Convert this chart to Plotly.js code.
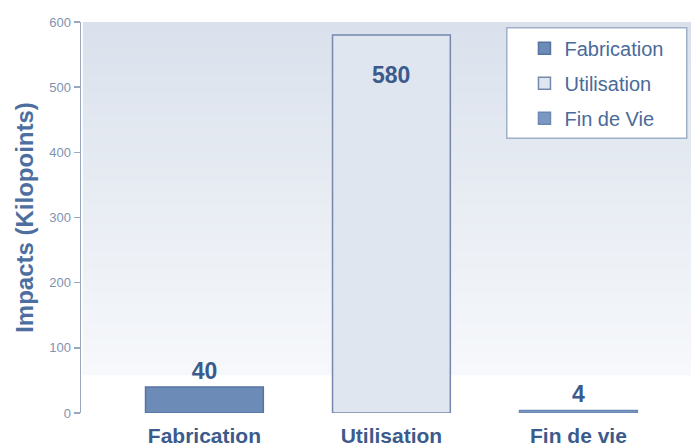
<!DOCTYPE html>
<html>
<head>
<meta charset="utf-8">
<script src="https://cdn.plot.ly/plotly-3.0.1.min.js"></script>
<style>html,body{margin:0;padding:0;background:#fff;}#chart{width:691px;height:448px;}</style>
</head>
<body>
<div id="chart"></div>
<script>
// Data
const categories = ['Fabrication', 'Utilisation', 'Fin de vie'];
const seriesNames = ['Fabrication', 'Utilisation', 'Fin de Vie'];
const values = [40, 580, 4];
const yTickVals = [0, 100, 200, 300, 400, 500, 600];

const fills = ['#6d8bb7', '#dfe6f0', '#7d98c0'];
const lines = ['#5674a2', '#7489ab', '#6a88b4'];
const labelColor = '#3b5b8c';

const traces = categories.map((c, i) => ({
  type: 'bar',
  name: seriesNames[i],
  legendgroup: 'g' + i,
  x: [c],
  y: [values[i]],
  width: 0.63,
  marker: {color: fills[i], line: {color: lines[i], width: 1.5}},
  text: i === 1 ? [''] : [String(values[i])],
  textposition: 'outside',
  constraintext: 'none',
  cliponaxis: false,
  textfont: {family: 'Liberation Sans, Arial, sans-serif', size: 23, color: labelColor, weight: 'bold'},
  hoverinfo: 'x+y'
}));

// gradient background strips (slightly overlapping to avoid seams)
const shapes = [];
const nStrips = 60;
const gBottom = 58, gTop = 600;
const gradTopCol = [218, 225, 236], gradBotCol = [246, 248, 251];
const stripH = (gTop - gBottom) / nStrips;
for (let k = 0; k < nStrips; k++) {
  const t = k / (nStrips - 1);
  const col = gradTopCol.map((v, j) => Math.round(gradBotCol[j] + (v - gradBotCol[j]) * t));
  shapes.push({
    type: 'rect', layer: 'below', xref: 'paper', yref: 'y',
    x0: 0.003, x1: 1,
    y0: gBottom + stripH * k,
    y1: Math.min(gTop, gBottom + stripH * (k + 1) + 2),
    fillcolor: 'rgb(' + col.join(',') + ')', line: {width: 0}
  });
}
// legend box
shapes.push({
  type: 'rect', layer: 'above', xref: 'paper', yref: 'paper',
  x0: 0.698, x1: 0.993, y0: 0.703, y1: 0.985,
  fillcolor: '#ffffff', line: {color: '#9fb0c8', width: 1.5}
});

const annotations = [{
  x: categories[1], y: values[1], xref: 'x', yref: 'y',
  text: String(values[1]), showarrow: false, yanchor: 'middle', yshift: -40,
  font: {family: 'Liberation Sans, Arial, sans-serif', size: 23, color: labelColor, weight: 'bold'}
}];

const layout = {
  width: 691, height: 448,
  margin: {l: 81, r: 0, t: 22, b: 35},
  paper_bgcolor: '#ffffff',
  plot_bgcolor: 'rgba(0,0,0,0)',
  barmode: 'overlay',
  showlegend: true,
  legend: {
    x: 0.727, y: 0.983, xanchor: 'left', yanchor: 'top',
    bgcolor: 'rgba(0,0,0,0)', borderwidth: 0,
    tracegroupgap: 6,
    font: {family: 'Liberation Sans, Arial, sans-serif', size: 20, color: '#4a6a9a'}
  },
  xaxis: {
    type: 'category',
    range: [-0.66, 2.602],
    showgrid: false, zeroline: false, showline: false,
    ticks: '',
    ticklabelstandoff: 8,
    tickfont: {family: 'Liberation Sans, Arial, sans-serif', size: 21, color: labelColor, weight: 'bold'},
    fixedrange: true
  },
  yaxis: {
    range: [0, 600],
    tickvals: yTickVals,
    showgrid: false, zeroline: false,
    showline: true, linecolor: '#9aa8be', linewidth: 1.5,
    ticks: 'outside', ticklen: 6, tickcolor: '#9aa8be', tickwidth: 1.5,
    tickfont: {family: 'Liberation Sans, Arial, sans-serif', size: 13, color: '#7f92b0'},
    title: {
      text: 'Impacts (Kilopoints)', standoff: 9,
      font: {family: 'Liberation Sans, Arial, sans-serif', size: 24, color: '#4d6f9f', weight: 'bold'}
    },
    fixedrange: true
  },
  shapes: shapes,
  annotations: annotations
};

Plotly.newPlot('chart', traces, layout, {displayModeBar: false, staticPlot: true});
</script>
</body>
</html>
